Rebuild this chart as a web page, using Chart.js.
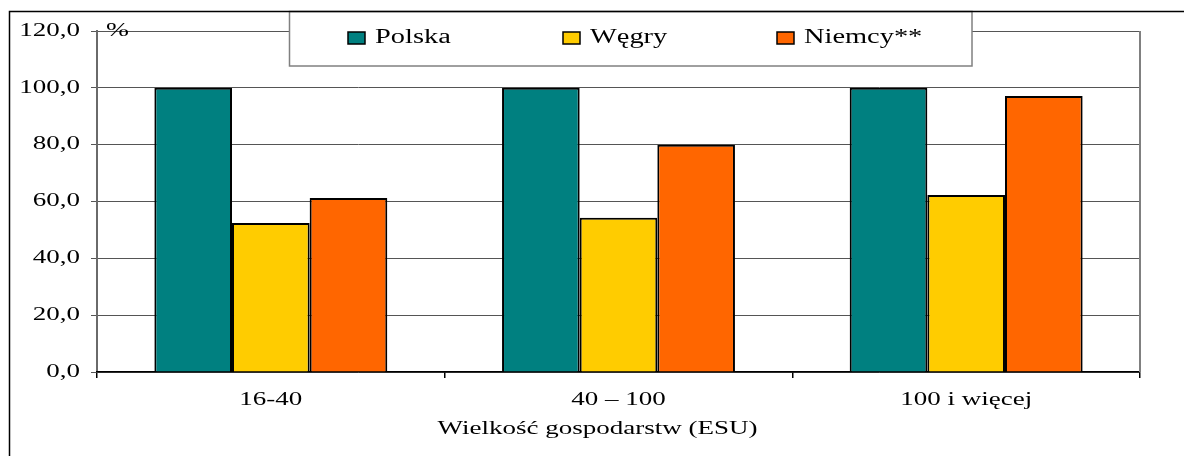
<!DOCTYPE html>
<html><head><meta charset="utf-8">
<script src="https://cdn.jsdelivr.net/npm/chart.js@4"></script>
<style>html,body{margin:0;padding:0;background:#fff;overflow:hidden}#wrap{width:1184px;height:456px;position:relative}</style>
</head><body><div id="wrap"><canvas id="c"></canvas></div>
<script>
const categories = ['16-40', '40 – 100', '100 i więcej'];
const seriesNames = ['Polska', 'Węgry', 'Niemcy**'];
const polska = [100, 100, 100];
const wegry = [52.4, 54.3, 62.3];
const niemcy = [61.2, 80.0, 97.1];
const yTicks = [0, 20, 40, 60, 80, 100, 120];
const colors = ['#008080', '#FFCC00', '#FF6600'];
const xTitle = 'Wielkość gospodarstw (ESU)';
const yUnit = '%';

const FONT = 'Liberation Serif';

// draw text horizontally widened (the reference chart's lettering is stretched)
function patchCtx(ctx) {
  if (ctx._wide) return;
  const orig = ctx.fillText.bind(ctx);
  ctx.fillText = function (t, x, y, mw) {
    const s = ctx._sx || 1;
    if (s === 1) return orig(t, x, y);
    ctx.save(); ctx.translate(x, y); ctx.scale(s, 1); orig(t, 0, 0); ctx.restore();
  };
  ctx._wide = true;
}

const framePlugin = {
  id: 'frame',
  afterUpdate(chart) {
    const sx = chart.scales.x;
    if (sx && !sx._shifted) {
      const orig = sx.drawTitle.bind(sx);
      sx.drawTitle = function () {
        const c = this.ctx; c.save(); c.translate(-21, 0); orig(); c.restore();
      };
      sx._shifted = true;
    }
  },
  beforeDraw(chart) { patchCtx(chart.ctx); chart.ctx._sx = 1.5; },
  beforeDatasetsDraw(chart) {
    const {ctx, chartArea: a} = chart;
    ctx.save();
    ctx.strokeStyle = '#808080'; ctx.lineWidth = 2;
    ctx.beginPath(); ctx.moveTo(a.right, a.top); ctx.lineTo(a.right, a.bottom); ctx.stroke();
    ctx.restore();
  },
  afterDraw(chart) {
    const {ctx, chartArea: a} = chart;
    ctx.save();
    ctx._sx = 1.45;
    ctx.fillStyle = '#000'; ctx.font = '19px "' + FONT + '"';
    ctx.textBaseline = 'alphabetic'; ctx.textAlign = 'left';
    ctx.fillText(yUnit, a.left + 9, 36);
    // legend box
    ctx.fillStyle = '#fff'; ctx.fillRect(289, 11, 683, 55);
    ctx.strokeStyle = '#808080'; ctx.lineWidth = 1.5;
    ctx.strokeRect(289.5, 11.5, 682.5, 54.5);
    const xs = [348, 563, 777];
    ctx.font = '20px "' + FONT + '"'; ctx._sx = 1.42;
    chart.data.datasets.forEach((ds, i) => {
      ctx.fillStyle = ds.backgroundColor;
      ctx.fillRect(xs[i], 32, 17, 12);
      ctx.strokeStyle = '#000'; ctx.lineWidth = 1.5;
      ctx.strokeRect(xs[i], 32, 17, 12);
      ctx.fillStyle = '#000';
      ctx.fillText(ds.label, xs[i] + 27, 43);
    });
    ctx._sx = 1.5;
    // outer frame
    ctx.strokeStyle = '#000'; ctx.lineWidth = 1.5;
    ctx.beginPath(); ctx.moveTo(9.5, 456); ctx.lineTo(9.5, 11.5); ctx.lineTo(1184, 11.5); ctx.stroke();
    ctx.restore();
  }
};

const seriesValues = [polska, wegry, niemcy];
new Chart(document.getElementById('c'), {
  type: 'bar',
  data: {
    labels: categories,
    datasets: seriesNames.map((n, i) => ({
      label: n, data: seriesValues[i],
      backgroundColor: colors[i], borderColor: '#000', borderWidth: 2,
      barPercentage: 1, categoryPercentage: 0.67
    }))
  },
  options: {
    responsive: true, maintainAspectRatio: false, animation: false,
    layout: {padding: {left: 0, top: 31, right: 44, bottom: 0}},
    plugins: {legend: {display: false}, tooltip: {enabled: false}},
    scales: {
      y: {
        min: 0, max: 120,
        afterBuildTicks: s => { s.ticks = yTicks.map(v => ({value: v})); },
        afterFit: s => { s.width = 97; },
        ticks: {
          color: '#000', font: {family: FONT, size: 18}, padding: 11,
          callback: v => Number(v).toFixed(1).replace('.', ',')
        },
        grid: {color: '#555', lineWidth: 1, tickLength: 6, drawTicks: true},
        border: {color: '#6a6a6a', width: 2}
      },
      x: {
        afterFit: s => { s.height = 84; },
        ticks: {color: '#000', font: {family: FONT, size: 18}, padding: 11},
        grid: {drawOnChartArea: false, color: '#000', tickLength: 6, lineWidth: 1.5},
        border: {color: '#000', width: 1.5},
        title: {display: true, text: xTitle, color: '#000', font: {family: FONT, size: 18}, padding: {top: 0, bottom: 16}}
      }
    }
  },
  plugins: [framePlugin]
});
</script></body></html>
